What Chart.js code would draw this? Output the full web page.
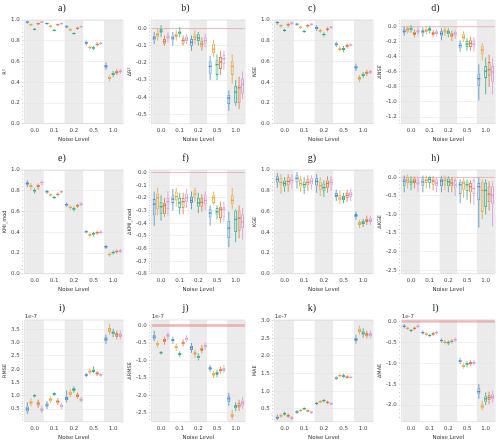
<!DOCTYPE html>
<html lang="en">
<head>
<meta charset="UTF-8">
<title>Noise level metrics</title>
<script src="https://cdn.jsdelivr.net/npm/chart.js"></script>
<style>
    body { margin: 0; background: #fff; }
    #grid { position: relative; width: 500px; height: 444px; overflow: hidden; }
    .cell { position: absolute; }
</style>
</head>
<body>
<div id="grid"></div>
<script>
// noise levels on the x axis
const levels = ['0.0', '0.1', '0.2', '0.5', '1.0'];
const colors = ['#4a90c8', '#e9a43b', '#2fad88', '#e07a35', '#d69ad6'];
const fills = ['rgba(74,144,200,0.15)', 'rgba(233,164,59,0.15)', 'rgba(47,173,136,0.15)', 'rgba(224,122,53,0.15)', 'rgba(214,154,214,0.15)'];

// each series: per level [lower whisker, q1, median, q3, upper whisker]
const r2 = [
    [[0.965,0.975,0.98,0.985,0.99],[0.955,0.962,0.966,0.97,0.975],[0.92,0.93,0.935,0.94,0.95],[0.755,0.77,0.78,0.79,0.8],[0.52,0.54,0.555,0.57,0.59]],
    [[0.94,0.95,0.955,0.96,0.965],[0.925,0.935,0.94,0.945,0.955],[0.89,0.9,0.905,0.91,0.92],[0.715,0.73,0.735,0.74,0.755],[0.41,0.43,0.44,0.455,0.47]],
    [[0.9,0.907,0.91,0.913,0.92],[0.89,0.897,0.9,0.903,0.91],[0.86,0.867,0.87,0.873,0.88],[0.71,0.725,0.73,0.737,0.75],[0.45,0.47,0.48,0.495,0.51]],
    [[0.95,0.96,0.965,0.97,0.975],[0.94,0.95,0.955,0.96,0.965],[0.905,0.915,0.92,0.925,0.935],[0.745,0.76,0.765,0.77,0.785],[0.47,0.485,0.495,0.51,0.525]],
    [[0.97,0.977,0.98,0.983,0.99],[0.955,0.962,0.965,0.968,0.975],[0.925,0.932,0.935,0.938,0.945],[0.76,0.77,0.775,0.78,0.79],[0.48,0.495,0.505,0.515,0.53]]
];
const dR2 = [
    [[-0.09,-0.07,-0.055,-0.042,-0.02],[-0.1,-0.07,-0.055,-0.04,-0.02],[-0.13,-0.1,-0.08,-0.06,-0.04],[-0.3,-0.263,-0.22,-0.19,-0.16],[-0.48,-0.44,-0.405,-0.385,-0.36]],
    [[-0.07,-0.048,-0.035,-0.024,0.0],[-0.07,-0.05,-0.04,-0.03,-0.01],[-0.09,-0.066,-0.05,-0.033,-0.01],[-0.165,-0.143,-0.12,-0.088,-0.065],[-0.32,-0.27,-0.22,-0.19,-0.15]],
    [[-0.05,-0.024,-0.015,0.0,0.02],[-0.05,-0.033,-0.025,-0.015,0.01],[-0.1,-0.073,-0.055,-0.033,-0.02],[-0.3,-0.27,-0.21,-0.18,-0.15],[-0.45,-0.435,-0.37,-0.335,-0.3]],
    [[-0.1,-0.088,-0.075,-0.06,-0.04],[-0.1,-0.088,-0.07,-0.057,-0.04],[-0.13,-0.11,-0.09,-0.07,-0.05],[-0.27,-0.235,-0.195,-0.165,-0.13],[-0.47,-0.435,-0.345,-0.33,-0.28]],
    [[-0.08,-0.06,-0.05,-0.033,-0.02],[-0.09,-0.073,-0.06,-0.046,-0.03],[-0.11,-0.088,-0.07,-0.05,-0.03],[-0.24,-0.208,-0.175,-0.153,-0.13],[-0.41,-0.38,-0.325,-0.29,-0.25]]
];
const nse = [
    [[0.955,0.968,0.975,0.982,0.99],[0.945,0.955,0.96,0.965,0.972],[0.895,0.912,0.925,0.935,0.95],[0.74,0.755,0.765,0.775,0.79],[0.51,0.53,0.545,0.56,0.58]],
    [[0.925,0.938,0.945,0.952,0.96],[0.915,0.925,0.93,0.935,0.945],[0.875,0.888,0.895,0.902,0.915],[0.695,0.712,0.72,0.728,0.745],[0.4,0.425,0.435,0.45,0.47]],
    [[0.885,0.895,0.9,0.905,0.915],[0.875,0.885,0.89,0.895,0.905],[0.84,0.853,0.86,0.867,0.88],[0.69,0.71,0.72,0.73,0.75],[0.44,0.46,0.47,0.485,0.5]],
    [[0.93,0.948,0.955,0.962,0.975],[0.925,0.938,0.945,0.952,0.962],[0.89,0.903,0.91,0.917,0.93],[0.725,0.742,0.75,0.758,0.775],[0.46,0.478,0.49,0.503,0.52]],
    [[0.955,0.965,0.97,0.975,0.982],[0.945,0.955,0.96,0.965,0.97],[0.915,0.925,0.93,0.935,0.942],[0.745,0.755,0.76,0.765,0.775],[0.48,0.492,0.5,0.508,0.52]]
];
const dNse = [
    [[-0.12,-0.08,-0.06,-0.033,0.0],[-0.13,-0.09,-0.065,-0.04,-0.01],[-0.18,-0.12,-0.09,-0.06,-0.02],[-0.33,-0.29,-0.25,-0.22,-0.18],[-0.98,-0.79,-0.69,-0.62,-0.5]],
    [[-0.09,-0.067,-0.04,-0.017,0.01],[-0.1,-0.07,-0.05,-0.025,0.0],[-0.12,-0.08,-0.055,-0.033,-0.01],[-0.2,-0.17,-0.14,-0.1,-0.06],[-0.45,-0.37,-0.31,-0.25,-0.22]],
    [[-0.08,-0.05,-0.03,-0.01,0.02],[-0.09,-0.06,-0.035,-0.017,0.01],[-0.14,-0.1,-0.07,-0.05,-0.02],[-0.32,-0.27,-0.23,-0.19,-0.15],[-0.9,-0.68,-0.59,-0.52,-0.41]],
    [[-0.14,-0.11,-0.09,-0.067,-0.04],[-0.14,-0.11,-0.09,-0.07,-0.04],[-0.19,-0.14,-0.11,-0.08,-0.05],[-0.32,-0.27,-0.22,-0.18,-0.13],[-0.8,-0.65,-0.57,-0.47,-0.37]],
    [[-0.11,-0.08,-0.06,-0.04,-0.01],[-0.13,-0.1,-0.08,-0.06,-0.03],[-0.16,-0.12,-0.095,-0.067,-0.04],[-0.33,-0.275,-0.23,-0.18,-0.14],[-0.9,-0.73,-0.6,-0.52,-0.42]]
];
const kmi = [
    [[0.835,0.858,0.87,0.882,0.9],[0.77,0.783,0.79,0.797,0.81],[0.645,0.658,0.665,0.672,0.685],[0.39,0.4,0.405,0.41,0.42],[0.24,0.252,0.26,0.268,0.28]],
    [[0.81,0.835,0.845,0.855,0.875],[0.745,0.755,0.76,0.765,0.775],[0.615,0.633,0.64,0.647,0.66],[0.35,0.367,0.375,0.383,0.395],[0.165,0.178,0.185,0.192,0.205]],
    [[0.775,0.792,0.8,0.808,0.825],[0.72,0.73,0.735,0.74,0.75],[0.6,0.618,0.625,0.632,0.645],[0.36,0.378,0.385,0.392,0.405],[0.185,0.198,0.205,0.212,0.225]],
    [[0.81,0.835,0.845,0.855,0.87],[0.745,0.758,0.765,0.772,0.785],[0.635,0.648,0.655,0.662,0.675],[0.375,0.388,0.395,0.402,0.415],[0.195,0.208,0.215,0.222,0.235]],
    [[0.855,0.872,0.88,0.888,0.9],[0.775,0.785,0.79,0.795,0.805],[0.65,0.663,0.67,0.677,0.69],[0.38,0.393,0.4,0.407,0.42],[0.2,0.213,0.22,0.227,0.24]]
];
const dKmi = [
    [[-0.42,-0.34,-0.25,-0.21,-0.15],[-0.3,-0.24,-0.21,-0.18,-0.13],[-0.29,-0.24,-0.22,-0.19,-0.15],[-0.42,-0.355,-0.32,-0.29,-0.26],[-0.59,-0.52,-0.44,-0.38,-0.31]],
    [[-0.34,-0.29,-0.2,-0.165,-0.12],[-0.27,-0.22,-0.19,-0.15,-0.12],[-0.23,-0.2,-0.17,-0.14,-0.12],[-0.25,-0.24,-0.2,-0.18,-0.15],[-0.29,-0.25,-0.22,-0.18,-0.12]],
    [[-0.38,-0.33,-0.27,-0.23,-0.18],[-0.33,-0.28,-0.24,-0.2,-0.16],[-0.32,-0.27,-0.24,-0.2,-0.16],[-0.37,-0.34,-0.31,-0.28,-0.26],[-0.55,-0.47,-0.37,-0.3,-0.29]],
    [[-0.35,-0.33,-0.26,-0.24,-0.2],[-0.33,-0.28,-0.23,-0.2,-0.16],[-0.31,-0.27,-0.235,-0.2,-0.17],[-0.4,-0.36,-0.29,-0.27,-0.23],[-0.52,-0.46,-0.36,-0.3,-0.26]],
    [[-0.34,-0.29,-0.23,-0.2,-0.15],[-0.28,-0.23,-0.2,-0.165,-0.13],[-0.3,-0.25,-0.22,-0.18,-0.15],[-0.39,-0.355,-0.29,-0.27,-0.23],[-0.53,-0.44,-0.39,-0.33,-0.28]]
];
const kge = [
    [[0.83,0.88,0.91,0.94,0.97],[0.82,0.88,0.92,0.95,0.98],[0.78,0.85,0.89,0.92,0.96],[0.7,0.74,0.755,0.78,0.81],[0.52,0.545,0.56,0.575,0.6]],
    [[0.77,0.85,0.88,0.92,0.96],[0.79,0.84,0.87,0.91,0.94],[0.75,0.81,0.85,0.89,0.93],[0.67,0.71,0.73,0.76,0.8],[0.44,0.47,0.48,0.5,0.52]],
    [[0.79,0.84,0.87,0.9,0.93],[0.77,0.83,0.86,0.89,0.93],[0.74,0.8,0.83,0.87,0.9],[0.68,0.71,0.73,0.75,0.78],[0.45,0.48,0.49,0.51,0.53]],
    [[0.79,0.85,0.89,0.93,0.96],[0.8,0.85,0.88,0.91,0.95],[0.78,0.83,0.87,0.9,0.94],[0.69,0.73,0.755,0.78,0.81],[0.47,0.5,0.515,0.53,0.56]],
    [[0.82,0.87,0.9,0.93,0.96],[0.81,0.86,0.89,0.92,0.95],[0.8,0.85,0.88,0.91,0.94],[0.7,0.74,0.765,0.79,0.82],[0.47,0.5,0.515,0.535,0.56]]
];
const dKge = [
    [[-0.4,-0.24,-0.1,-0.03,0.05],[-0.4,-0.24,-0.12,-0.03,0.05],[-0.4,-0.24,-0.1,-0.03,0.03],[-0.7,-0.45,-0.2,-0.11,-0.05],[-1.35,-0.62,-0.25,-0.15,0.0]],
    [[-0.3,-0.15,-0.08,0.02,0.08],[-0.3,-0.15,-0.08,-0.03,0.05],[-0.35,-0.2,-0.08,0.0,0.05],[-0.55,-0.33,-0.15,-0.09,-0.03],[-1.13,-0.93,-0.35,-0.11,-0.05]],
    [[-0.35,-0.2,-0.12,-0.03,0.03],[-0.3,-0.15,-0.05,0.02,0.05],[-0.4,-0.24,-0.12,-0.03,0.03],[-0.6,-0.37,-0.2,-0.11,-0.05],[-1.0,-0.8,-0.35,-0.14,-0.05]],
    [[-0.3,-0.15,-0.1,-0.03,0.02],[-0.35,-0.2,-0.1,-0.03,0.03],[-0.4,-0.24,-0.15,-0.05,0.0],[-0.7,-0.41,-0.25,-0.15,-0.08],[-0.9,-0.67,-0.45,-0.24,-0.1]],
    [[-0.4,-0.22,-0.15,-0.05,0.0],[-0.4,-0.24,-0.15,-0.05,0.0],[-0.5,-0.3,-0.2,-0.07,-0.02],[-0.75,-0.45,-0.3,-0.07,-0.02],[-1.32,-0.71,-0.48,-0.24,-0.1]]
];
// RMSE / MAE values in units of 1e-7
const rmse = [
    [[0.32,0.41,0.5,0.6,0.75],[0.5,0.59,0.65,0.72,0.8],[0.75,0.83,0.88,0.95,1.2],[1.7,1.75,1.78,1.81,1.86],[2.95,3.05,3.13,3.2,3.3]],
    [[0.6,0.68,0.75,0.82,0.9],[0.72,0.79,0.85,0.91,0.98],[0.95,1.03,1.1,1.16,1.25],[1.8,1.87,1.91,1.96,2.02],[3.3,3.4,3.48,3.55,3.7]],
    [[0.94,0.98,1.0,1.03,1.06],[1.0,1.03,1.07,1.1,1.13],[1.12,1.18,1.24,1.3,1.36],[1.85,1.89,1.94,1.99,2.1],[3.2,3.3,3.37,3.43,3.52]],
    [[0.55,0.62,0.7,0.78,0.85],[0.65,0.71,0.78,0.85,0.92],[0.88,0.94,1.0,1.06,1.12],[1.74,1.79,1.84,1.88,1.93],[3.12,3.21,3.29,3.36,3.45]],
    [[0.35,0.42,0.47,0.55,0.62],[0.5,0.56,0.62,0.67,0.73],[0.75,0.8,0.85,0.9,0.96],[1.7,1.75,1.79,1.83,1.88],[3.12,3.21,3.28,3.35,3.45]]
];
const dRmse = [
    [[-0.45,-0.4,-0.33,-0.26,-0.15],[-0.52,-0.46,-0.42,-0.38,-0.32],[-0.78,-0.7,-0.63,-0.58,-0.5],[-1.32,-1.28,-1.23,-1.19,-1.14],[-2.3,-2.2,-2.1,-2.03,-1.93]],
    [[-0.62,-0.57,-0.53,-0.49,-0.44],[-0.72,-0.66,-0.62,-0.58,-0.52],[-0.92,-0.85,-0.8,-0.76,-0.7],[-1.5,-1.44,-1.4,-1.36,-1.3],[-2.7,-2.62,-2.57,-2.52,-2.42]],
    [[-0.83,-0.8,-0.78,-0.76,-0.73],[-0.9,-0.85,-0.82,-0.79,-0.74],[-1.0,-0.94,-0.9,-0.86,-0.8],[-1.48,-1.42,-1.37,-1.33,-1.27],[-2.45,-2.38,-2.33,-2.28,-2.2]],
    [[-0.55,-0.48,-0.43,-0.38,-0.32],[-0.6,-0.54,-0.5,-0.46,-0.4],[-0.8,-0.73,-0.68,-0.63,-0.56],[-1.38,-1.32,-1.28,-1.24,-1.18],[-2.45,-2.36,-2.3,-2.22,-2.13]],
    [[-0.4,-0.33,-0.28,-0.24,-0.18],[-0.48,-0.42,-0.38,-0.34,-0.28],[-0.7,-0.63,-0.58,-0.54,-0.48],[-1.36,-1.3,-1.25,-1.2,-1.13],[-2.4,-2.3,-2.22,-2.15,-2.05]]
];
const mae = [
    [[0.18,0.22,0.25,0.28,0.33],[0.36,0.39,0.41,0.43,0.46],[0.6,0.63,0.65,0.67,0.7],[1.32,1.35,1.37,1.39,1.42],[2.35,2.42,2.47,2.52,2.6]],
    [[0.24,0.27,0.3,0.33,0.36],[0.41,0.43,0.45,0.47,0.49],[0.65,0.68,0.7,0.72,0.75],[1.39,1.42,1.44,1.46,1.49],[2.6,2.68,2.73,2.78,2.86]],
    [[0.3,0.34,0.36,0.38,0.42],[0.46,0.48,0.5,0.52,0.54],[0.68,0.71,0.73,0.75,0.78],[1.38,1.41,1.43,1.45,1.49],[2.52,2.6,2.65,2.7,2.78]],
    [[0.24,0.27,0.3,0.32,0.36],[0.4,0.42,0.44,0.46,0.48],[0.63,0.66,0.68,0.7,0.73],[1.35,1.38,1.4,1.42,1.45],[2.5,2.55,2.6,2.65,2.72]],
    [[0.18,0.21,0.24,0.26,0.3],[0.36,0.38,0.4,0.42,0.44],[0.6,0.62,0.64,0.66,0.69],[1.35,1.37,1.39,1.41,1.44],[2.5,2.55,2.6,2.65,2.72]]
];
const dMae = [
    [[-0.17,-0.14,-0.12,-0.1,-0.07],[-0.32,-0.29,-0.27,-0.25,-0.22],[-0.51,-0.48,-0.46,-0.44,-0.41],[-1.02,-0.98,-0.95,-0.92,-0.88],[-1.85,-1.75,-1.68,-1.6,-1.5]],
    [[-0.21,-0.19,-0.17,-0.15,-0.13],[-0.36,-0.33,-0.31,-0.29,-0.26],[-0.55,-0.52,-0.5,-0.48,-0.45],[-1.13,-1.1,-1.07,-1.04,-1.0],[-2.13,-2.08,-2.03,-1.98,-1.9]],
    [[-0.25,-0.23,-0.22,-0.21,-0.19],[-0.38,-0.36,-0.34,-0.32,-0.3],[-0.57,-0.53,-0.51,-0.49,-0.46],[-1.1,-1.05,-1.02,-0.99,-0.95],[-2.0,-1.92,-1.85,-1.79,-1.7]],
    [[-0.21,-0.19,-0.17,-0.15,-0.13],[-0.35,-0.32,-0.3,-0.28,-0.25],[-0.53,-0.5,-0.48,-0.46,-0.43],[-1.07,-1.03,-1.0,-0.97,-0.93],[-1.98,-1.88,-1.82,-1.76,-1.68]],
    [[-0.16,-0.14,-0.12,-0.1,-0.07],[-0.32,-0.29,-0.27,-0.25,-0.22],[-0.5,-0.46,-0.44,-0.42,-0.39],[-1.05,-1.02,-0.99,-0.96,-0.92],[-1.95,-1.86,-1.8,-1.74,-1.65]]
];

// panel settings: letter, data, y label, axis range, tick step, zero line, offset text
const panels = [
    { id: 'a)', data: r2,    label: 'R²',        min: 0,      max: 1.0,  step: 0.2 },
    { id: 'b)', data: dR2,   label: 'ΔR²',       min: -0.555, max: 0.05, step: 0.1, zero: 1 },
    { id: 'c)', data: nse,   label: 'NSE',       min: 0,      max: 1.0,  step: 0.2 },
    { id: 'd)', data: dNse,  label: 'ΔNSE',      min: -1.29,  max: 0.09, step: 0.2, zero: 1 },
    { id: 'e)', data: kmi,   label: 'KMI_mod',   min: 0,      max: 1.0,  step: 0.2 },
    { id: 'f)', data: dKmi,  label: 'ΔKMI_mod',  min: -0.8,   max: 0.02, step: 0.1, zero: 1 },
    { id: 'g)', data: kge,   label: 'KGE',       min: 0,      max: 1.0,  step: 0.2 },
    { id: 'h)', data: dKge,  label: 'ΔKGE',      min: -2.6,   max: 0.2,  step: 0.5, zero: 1 },
    { id: 'i)', data: rmse,  label: 'RMSE',      min: 0.02,   max: 3.85, step: 0.5, exp: '1e-7' },
    { id: 'j)', data: dRmse, label: 'ΔRMSE',     min: -2.76,  max: 0.16, step: 0.5, zero: 3, exp: '1e-7' },
    { id: 'k)', data: mae,   label: 'MAE',       min: 0.13,   max: 3.02, step: 0.5, exp: '1e-7' },
    { id: 'l)', data: dMae,  label: 'ΔMAE',      min: -2.4,   max: 0.03, step: 0.5, zero: 3, exp: '1e-7' }
];

// grey bands behind every other noise level
const bandPlugin = {
    id: 'bands',
    beforeDraw(chart) {
        const { ctx, chartArea: a, scales: { x } } = chart;
        const cat = x.getPixelForValue(1) - x.getPixelForValue(0);
        ctx.save();
        ctx.fillStyle = '#ebebeb';
        [0, 2, 4].forEach(k => {
            const cx = x.getPixelForValue(k);
            ctx.fillRect(cx - cat * 0.47, a.top, cat * 0.94, a.height);
        });
        ctx.restore();
    }
};

const boxPlugin = {
    id: 'boxes',
    beforeDatasetsDraw(chart, args, opts) {
        if (!opts.zero) return;
        const { ctx, chartArea: a, scales: { y } } = chart;
        const py = y.getPixelForValue(0);
        ctx.save();
        ctx.strokeStyle = 'rgba(232,120,120,0.45)';
        ctx.lineWidth = opts.zero;
        ctx.beginPath();
        ctx.moveTo(a.left, py);
        ctx.lineTo(a.right, py);
        ctx.stroke();
        ctx.restore();
    },
    afterDatasetsDraw(chart) {
        const { ctx, scales: { y } } = chart;
        ctx.save();
        chart.data.datasets.forEach((ds, i) => {
            const meta = chart.getDatasetMeta(i);
            meta.data.forEach((bar, j) => {
                const s = ds.stats[j];
                ctx.strokeStyle = ds.borderColor;
                ctx.lineWidth = 0.8;
                ctx.beginPath();
                ctx.moveTo(bar.x, y.getPixelForValue(s[0]));
                ctx.lineTo(bar.x, y.getPixelForValue(s[1]));
                ctx.moveTo(bar.x, y.getPixelForValue(s[3]));
                ctx.lineTo(bar.x, y.getPixelForValue(s[4]));
                ctx.stroke();
                const my = y.getPixelForValue(s[2]);
                ctx.lineWidth = 1.2;
                ctx.beginPath();
                ctx.moveTo(bar.x - bar.width / 2, my);
                ctx.lineTo(bar.x + bar.width / 2, my);
                ctx.stroke();
            });
        });
        ctx.restore();
    },
    afterDraw(chart, args, opts) {
        const { ctx, chartArea: a, scales: { y } } = chart;
        ctx.save();
        ctx.strokeStyle = '#d4d4d4';
        ctx.lineWidth = 0.6;
        ctx.strokeRect(a.left, a.top, a.width, a.height);
        // minor tick dots along the left axis
        const minor = opts.step / 5;
        ctx.fillStyle = '#aaa';
        for (let k = Math.ceil(y.min / minor); k * minor <= y.max; k++) {
            ctx.fillRect(a.left - 2.5, y.getPixelForValue(k * minor) - 0.4, 0.8, 0.8);
        }
        if (opts.exp) {
            ctx.fillStyle = '#444';
            ctx.font = '5.5px "DejaVu Sans"';
            ctx.textBaseline = 'bottom';
            ctx.fillText(opts.exp, a.left, a.top - 1);
        }
        ctx.restore();
    }
};

const grid = document.getElementById('grid');
const colLeft = [0, 125, 250, 375];
const rowTop = [0, 150, 300];
const rowH = [144, 144, 144];
const rowPad = [1, 1, 3];

panels.forEach((p, n) => {
    const r = Math.floor(n / 4), c = n % 4;
    const div = document.createElement('div');
    div.className = 'cell';
    div.style.left = colLeft[c] + 'px';
    div.style.top = rowTop[r] + 'px';
    const canvas = document.createElement('canvas');
    canvas.width = 125;
    canvas.height = rowH[r];
    div.appendChild(canvas);
    grid.appendChild(div);

    const datasets = p.data.map((series, i) => ({
        data: series.map(s => [s[1], s[3]]),
        stats: series,
        backgroundColor: fills[i],
        borderColor: colors[i],
        borderWidth: 0.8,
        borderSkipped: false,
        categoryPercentage: 0.92,
        barPercentage: 0.85
    }));

    new Chart(canvas, {
        type: 'bar',
        data: { labels: levels, datasets },
        options: {
            responsive: false,
            animation: false,
            layout: { padding: { left: 1, right: c % 2 ? 5 : 2, top: 0, bottom: rowPad[r] } },
            plugins: {
                legend: { display: false },
                tooltip: { enabled: false },
                title: {
                    display: true,
                    text: p.id,
                    color: '#222',
                    font: { family: 'Liberation Serif', size: 10, weight: 'normal' },
                    padding: { top: 2, bottom: 6 }
                },
                boxes: { zero: p.zero || 0, exp: p.exp || '', step: p.step }
            },
            scales: {
                x: {
                    grid: { display: false, drawTicks: false, tickLength: 0 },
                    border: { display: false },
                    ticks: { color: '#444', font: { family: 'DejaVu Sans', size: 5.5 }, padding: 3 },
                    title: { display: true, text: 'Noise Level', color: '#333', font: { family: 'DejaVu Sans', size: 5.5 }, padding: 0 }
                },
                y: {
                    min: p.min,
                    max: p.max,
                    grid: { color: '#e2e2e2', lineWidth: 0.5, drawTicks: true, tickLength: 3 },
                    border: { display: false },
                    ticks: {
                        stepSize: p.step,
                        includeBounds: false,
                        color: '#444',
                        font: { family: 'DejaVu Sans', size: 5.5 },
                        padding: 2,
                        callback: v => (Math.abs(v) < 1e-9 ? 0 : v).toFixed(1)
                    },
                    title: { display: true, text: p.label, color: '#333', font: { family: 'DejaVu Sans', size: 5 }, padding: 1 }
                }
            }
        },
        plugins: [bandPlugin, boxPlugin]
    });
});
</script>
</body>
</html>
